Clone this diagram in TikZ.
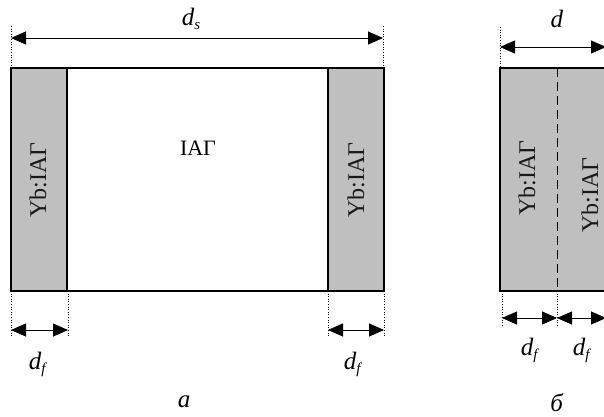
\documentclass[tikz,border=0pt]{standalone}
\usepackage{fontspec}
\setmainfont{Liberation Serif}
\usetikzlibrary{arrows.meta}
\newcommand{\dimsym}[1]{\textit{d}\raisebox{-0.35ex}{\fontsize{15}{16}\selectfont\textit{#1}}}
\tikzset{
  crystal/.style={fill=black!25, draw=black, line width=1.5pt},
  pure/.style={fill=white, draw=black, line width=1.5pt},
  dimline/.style={{Triangle[length=15pt,width=13pt]}-{Triangle[length=15pt,width=13pt]}, line width=0.9pt},
  guide/.style={dotted, line width=0.6pt},
  lbl/.style={font=\fontsize{25}{28}\selectfont},
  doped/.style={font=\fontsize{24}{26}\selectfont, rotate=90, text=black!90}
}
\begin{document}
\begin{tikzpicture}[x=1pt,y=-1pt]
\useasboundingbox (0,0) rectangle (604,416);
\clip (0,0) rectangle (604,416);

% panel a
\coordinate (aTL) at (11,68);
\coordinate (aBR) at (384,291);
\draw[pure] (aTL) rectangle (aBR);
\draw[crystal] (11,68) rectangle (67,291);
\draw[crystal] (328,68) rectangle (384,291);
\node[doped] (dopedL) at (38,180) {Yb:IAГ};
\node[doped] (dopedR) at (356,180) {Yb:IAГ};
\node[font=\fontsize{22}{24}\selectfont] (host) at (198,148) {IAГ};

\draw[guide] (11,26) -- (11,68);
\draw[guide] (383,26) -- (383,68);
\coordinate (dsL) at (11,38);
\coordinate (dsR) at (383,38);
\draw[dimline] (dsL) -- (dsR);
\node[lbl] (ds) at (191,19) {\dimsym{s}};

\draw[guide] (11,291) -- (11,336);
\draw[guide] (68,291) -- (68,336);
\draw[guide] (328,291) -- (328,336);
\draw[guide] (384,291) -- (384,336);
\coordinate (f1L) at (11,330);
\coordinate (f1R) at (68,330);
\coordinate (f2L) at (328,330);
\coordinate (f2R) at (384,330);
\draw[dimline] (f1L) -- (f1R);
\draw[dimline] (f2L) -- (f2R);
\node[lbl] (df1) at (38,364) {\dimsym{f}};
\node[lbl] (df2) at (353,364) {\dimsym{f}};
\node[lbl] (capA) at (184,402) {\textit{a}};

% panel b
\draw[crystal] (500,68) rectangle (660,291);
\draw[dashed, dash pattern=on 9pt off 5pt, line width=1pt] (557,68) -- (557,291);
\node[doped] (dopedB1) at (527,178) {Yb:IAГ};
\node[doped] (dopedB2) at (590,195) {Yb:IAГ};

\draw[guide] (500,27) -- (500,68);
\coordinate (dL) at (500,47);
\coordinate (dR) at (606,47);
\draw[dimline] (dL) -- (dR);
\node[lbl] (d) at (557,19) {\textit{d}};

\draw[guide] (502,291) -- (502,326);
\draw[guide] (557,291) -- (557,326);
\coordinate (g1L) at (502,318);
\coordinate (g1M) at (557,318);
\coordinate (g1R) at (606,318);
\draw[dimline] (g1L) -- (g1M);
\draw[dimline] (g1M) -- (g1R);
\node[lbl] (df3) at (530,350) {\dimsym{f}};
\node[lbl] (df4) at (582,350) {\dimsym{f}};
\node[lbl] (capB) at (557,403) {\textit{б}};
\end{tikzpicture}
\end{document}
